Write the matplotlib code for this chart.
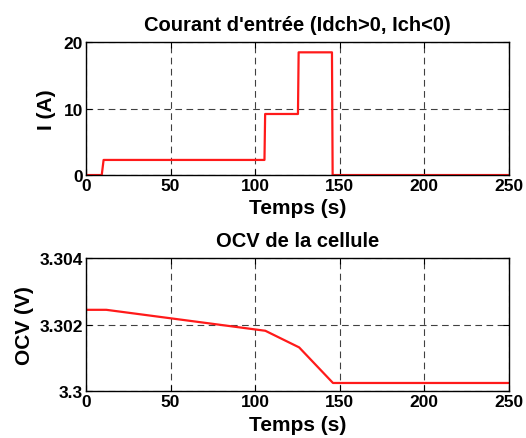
import numpy as np
import matplotlib.pyplot as plt

# Courant d'entree (A)
t_courant = [0, 9.3, 10.4, 105.5, 105.9, 125.3, 125.7, 145.4, 145.8, 250]
i_courant = [0, 0, 2.27, 2.27, 9.18, 9.18, 18.45, 18.45, 0, 0]

# OCV de la cellule (V)
t_ocv = [0, 12, 106, 126, 146, 250]
v_ocv = [3.30245, 3.30245, 3.30182, 3.30132, 3.30025, 3.30025]

plt.rcParams['font.family'] = ['Liberation Sans', 'DejaVu Sans']
plt.rcParams['font.weight'] = 'bold'

fig = plt.figure(figsize=(5.26, 4.39), dpi=100)
ax1 = fig.add_axes([0.1635, 0.599, 0.804, 0.303])
ax2 = fig.add_axes([0.1635, 0.1064, 0.804, 0.303])


def style(ax):
    ax.grid(True, color='black', linestyle=(0, (6, 4)), linewidth=0.8, alpha=0.75)
    ax.tick_params(direction='in', length=4, width=0.8, labelsize=12.5,
                   top=True, right=True, pad=2)
    for s in ax.spines.values():
        s.set_linewidth(1.0)
    ax.set_xlim(0, 250)
    ax.set_xticks([0, 50, 100, 150, 200, 250])
    ax.set_xlabel('Temps (s)', fontsize=15, fontweight='bold', labelpad=4)
    for lab in ax.get_xticklabels() + ax.get_yticklabels():
        lab.set_fontweight('bold')


ax1.plot(t_courant, i_courant, color='#ff1a1a', linewidth=1.6)
style(ax1)
ax1.set_ylim(0, 20)
ax1.set_yticks([0, 10, 20])
ax1.set_ylabel('I (A)', fontsize=15, fontweight='bold', labelpad=6)
ax1.set_title("Courant d'entrée (Idch>0, Ich<0)", fontsize=14.5, fontweight='bold', pad=9)

ax2.plot(t_ocv, v_ocv, color='#ff1a1a', linewidth=1.6)
style(ax2)
ax2.set_ylim(3.3, 3.304)
ax2.set_yticks([3.3, 3.302, 3.304])
ax2.set_yticklabels(['3.3', '3.302', '3.304'])
for lab in ax2.get_yticklabels():
    lab.set_fontweight('bold')
ax2.set_ylabel('OCV (V)', fontsize=15, fontweight='bold', labelpad=4)
ax2.set_title('OCV de la cellule', fontsize=14.5, fontweight='bold', pad=9)

fig.savefig('out.png', dpi=100)
